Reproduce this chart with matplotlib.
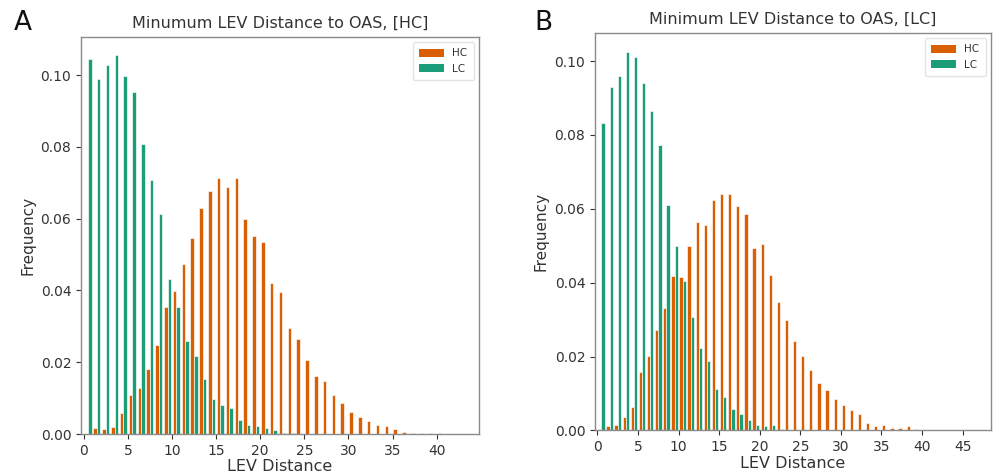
import numpy as np
import matplotlib
matplotlib.use("Agg")
import matplotlib.pyplot as plt

# ---- data (relative frequency per integer LEV distance bin, starting at 0) ----
hc_bins_A = list(range(0, 44))
hc_freq_A = [0.0, 0.0018, 0.0013, 0.0019, 0.0058, 0.0109, 0.0127, 0.0180, 0.0247, 0.0353,
             0.0398, 0.0474, 0.0547, 0.0630, 0.0678, 0.0714, 0.0687, 0.0712, 0.0598, 0.0553,
             0.0535, 0.0421, 0.0396, 0.0294, 0.0265, 0.0206, 0.0162, 0.0148, 0.0109, 0.0086,
             0.0060, 0.0047, 0.0036, 0.0026, 0.0021, 0.0013, 0.0005, 0.0004, 0.0003, 0.0002,
             0.0002, 0.0001, 0.0001, 0.0001]
lc_freq_A = [0.1044, 0.0988, 0.1028, 0.1055, 0.0997, 0.0953, 0.0807, 0.0708, 0.0614, 0.0431,
             0.0355, 0.0260, 0.0217, 0.0152, 0.0097, 0.0082, 0.0073, 0.0038, 0.0026, 0.0022,
             0.0017, 0.0010, 0.0004, 0.0002, 0.0, 0.0, 0.0, 0.0, 0.0, 0.0,
             0.0, 0.0, 0.0, 0.0, 0.0, 0.0, 0.0, 0.0, 0.0, 0.0,
             0.0, 0.0, 0.0, 0.0]

hc_bins_B = list(range(0, 48))
hc_freq_B = [0.0, 0.0011, 0.0014, 0.0036, 0.0063, 0.0158, 0.0203, 0.0273, 0.0331, 0.0418,
             0.0416, 0.0499, 0.0565, 0.0557, 0.0623, 0.0640, 0.0641, 0.0608, 0.0587, 0.0495,
             0.0506, 0.0422, 0.0347, 0.0298, 0.0242, 0.0201, 0.0164, 0.0129, 0.0110, 0.0086,
             0.0068, 0.0056, 0.0045, 0.0020, 0.0013, 0.0014, 0.0007, 0.0008, 0.0011, 0.0003,
             0.0002, 0.0002, 0.0001, 0.0001, 0.0001, 0.0001, 0.0001, 0.0001]
lc_freq_B = [0.0833, 0.0929, 0.0960, 0.1024, 0.1012, 0.0942, 0.0865, 0.0772, 0.0611, 0.0500,
             0.0404, 0.0307, 0.0223, 0.0187, 0.0113, 0.0090, 0.0059, 0.0045, 0.0028, 0.0016,
             0.0013, 0.0014, 0.0003, 0.0002, 0.0, 0.0, 0.0, 0.0, 0.0, 0.0,
             0.0, 0.0, 0.0, 0.0, 0.0, 0.0, 0.0, 0.0, 0.0, 0.0,
             0.0, 0.0, 0.0, 0.0, 0.0, 0.0, 0.0, 0.0]

titles = ["Minumum LEV Distance to OAS, [HC]", "Minimum LEV Distance to OAS, [LC]"]
panel_letters = ["A", "B"]
series_labels = ["HC", "LC"]
colors = ["#d95f02", "#1b9e77"]

TEXT = "#333333"
plt.rcParams["font.family"] = ["DejaVu Sans"]

fig = plt.figure(figsize=(10.03, 4.76), dpi=100)
axA = fig.add_axes([0.0808, 0.0882, 0.3968, 0.834])
axB = fig.add_axes([0.5932, 0.0956, 0.3948, 0.835])

panels = [
    (axA, hc_bins_A, hc_freq_A, lc_freq_A, (-0.3, 44.8), 0.1106, [0, 5, 10, 15, 20, 25, 30, 35, 40]),
    (axB, hc_bins_B, hc_freq_B, lc_freq_B, (-0.3, 48.5), 0.1076, [0, 5, 10, 15, 20, 25, 30, 35, 40, 45]),
]

for i, (ax, bins, hc, lc, xl, ytop, xt) in enumerate(panels):
    edges = np.arange(bins[0], bins[-1] + 2)
    ax.hist([bins, bins], bins=edges, weights=[hc, lc], color=colors,
            label=series_labels, rwidth=0.8, edgecolor="white", linewidth=0.45)
    ax.set_xlim(*xl)
    ax.set_ylim(0, ytop)
    ax.set_xticks(xt)
    ax.set_yticks([0, 0.02, 0.04, 0.06, 0.08, 0.10])
    ax.set_yticklabels(["0.00", "0.02", "0.04", "0.06", "0.08", "0.10"])
    ax.tick_params(labelsize=10, colors=TEXT, length=3.5, width=0.8)
    for s in ax.spines.values():
        s.set_color("#8a8a8a")
        s.set_linewidth(1.0)
    ax.set_title(titles[i], fontsize=11.5, color=TEXT, pad=7)
    ax.set_xlabel("LEV Distance", fontsize=11.5, color=TEXT, labelpad=1)
    ax.set_ylabel("Frequency", fontsize=11, color=TEXT, labelpad=4)
    leg = ax.legend(loc="upper right", fontsize=7.5, frameon=True, handlelength=2.4,
                    handleheight=0.9, borderpad=0.6, labelspacing=0.5)
    leg.get_frame().set_edgecolor("#dddddd")
    for h in leg.legend_handles:
        h.set_edgecolor("none")
    for t in leg.get_texts():
        t.set_color(TEXT)

fig.text(23 / 1003, 1 - 23 / 476, "A", fontsize=19, ha="center", va="center", color="#111111")
fig.text(543 / 1003, 1 - 23 / 476, "B", fontsize=19, ha="center", va="center", color="#111111")

fig.savefig("out.png", dpi=100)
